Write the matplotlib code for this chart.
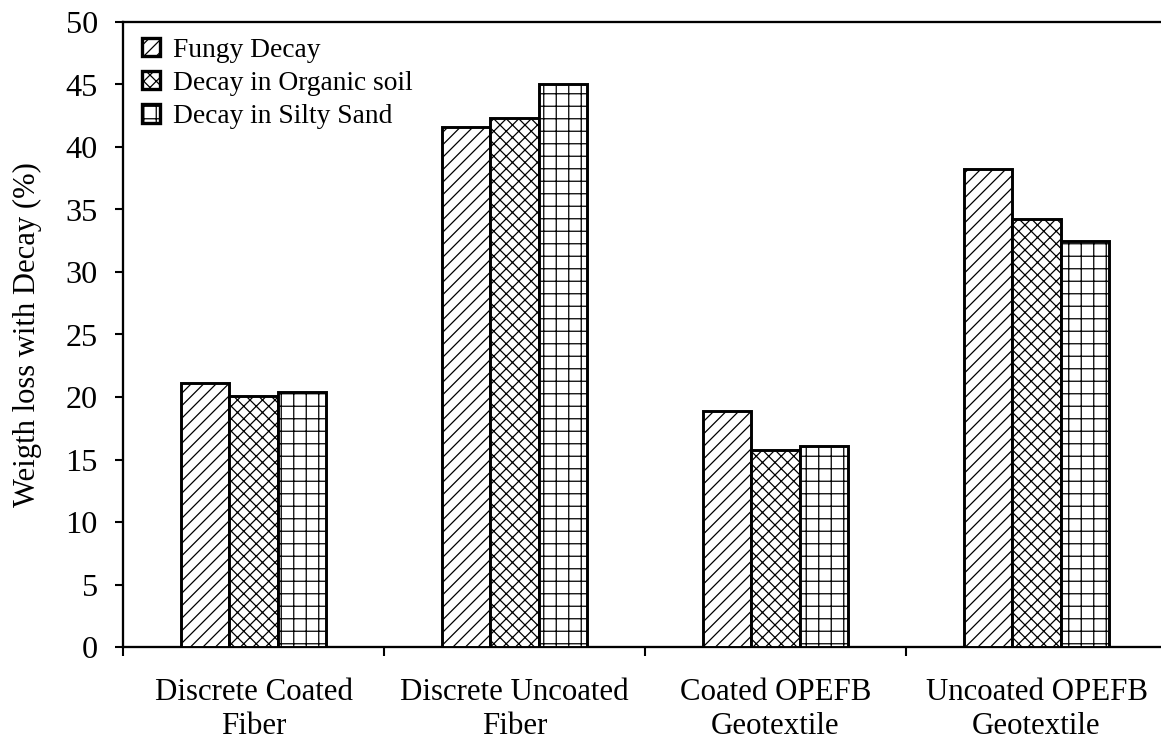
import matplotlib
matplotlib.use("Agg")
import matplotlib.pyplot as plt
import numpy as np

categories = ["Discrete Coated\nFiber", "Discrete Uncoated\nFiber",
              "Coated OPEFB\nGeotextile", "Uncoated OPEFB\nGeotextile"]
series_names = ["Fungy Decay", "Decay in Organic soil", "Decay in Silty Sand"]
fungy = [21.1, 41.6, 18.9, 38.2]
organic = [20.1, 42.3, 15.8, 34.2]
silty = [20.4, 45.0, 16.1, 32.5]
yticks = [0, 5, 10, 15, 20, 25, 30, 35, 40, 45, 50]

plt.rcParams['font.family'] = ['Liberation Serif', 'DejaVu Serif']
plt.rcParams['hatch.linewidth'] = 0.6
plt.rcParams['hatch.color'] = 'black'

DPI = 150
fig = plt.figure(figsize=(1161 / DPI, 741 / DPI), dpi=DPI)
ax = fig.add_axes([123 / 1161, 1 - 647 / 741, 1044 / 1161, 625 / 741])

x = np.arange(len(categories))
w = 0.184
hatches = ['////', 'xxxx', '++']
data = [fungy, organic, silty]
for i, (vals, h, name) in enumerate(zip(data, hatches, series_names)):
    ax.bar(x + (i - 1) * w, vals, width=w, facecolor='white', edgecolor='black',
           linewidth=1.4, hatch=h, label=name, zorder=3)

ax.set_xlim(-0.5, 3.5)
ax.set_ylim(0, 50)
ax.set_yticks(yticks)
ax.set_xticks([-0.5, 0.5, 1.5, 2.5, 3.5])
ax.set_xticklabels([])
ax.set_xticks(x, categories, minor=True)
ax.tick_params(axis='x', which='minor', length=0, pad=15, labelsize=14.8)
ax.tick_params(axis='x', which='major', direction='out', length=4.5, width=1.0)
ax.tick_params(axis='y', direction='out', length=4, width=1.0, pad=8, labelsize=15.5)

for s in ['left', 'top', 'bottom']:
    ax.spines[s].set_linewidth(1.1)
ax.spines['right'].set_visible(False)

ax.set_ylabel("Weigth loss with Decay (%)", fontsize=14.7)
ax.yaxis.set_label_coords(-0.078, 0.5)

leg = ax.legend(loc='upper left', bbox_to_anchor=(0.018, 0.975), frameon=False,
                fontsize=13.2, handlelength=0.65, handleheight=0.65,
                handletextpad=0.5, labelspacing=0.3, borderpad=0, borderaxespad=0)
for p in leg.get_patches():
    p.set_linewidth(1.6)

fig.savefig("out.png", dpi=DPI)
